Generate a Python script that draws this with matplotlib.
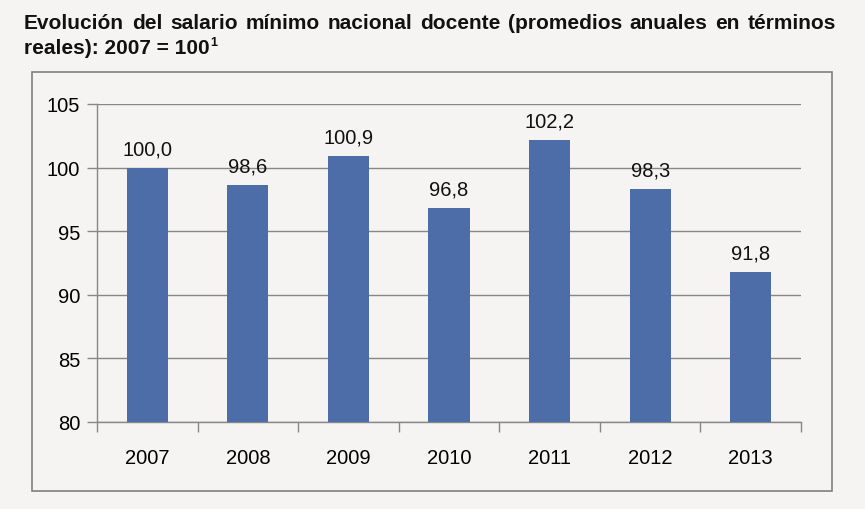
import matplotlib.pyplot as plt
from matplotlib.patches import Rectangle

years = ['2007', '2008', '2009', '2010', '2011', '2012', '2013']
values = [100.0, 98.6, 100.9, 96.8, 102.2, 98.3, 91.8]
value_labels = ['100,0', '98,6', '100,9', '96,8', '102,2', '98,3', '91,8']
yticks = [80, 85, 90, 95, 100, 105]

title_line1 = 'Evolución del salario mínimo nacional docente (promedios anuales en términos'
title_line2 = 'reales): 2007 = 100'

bg = '#f5f4f2'
bar_color = '#4c6da7'
grid_color = '#878787'

plt.rcParams['font.family'] = ['Liberation Sans', 'DejaVu Sans']

fig = plt.figure(figsize=(8.65, 5.1), dpi=100, facecolor=bg)

# outer chart box, behind the axes
fig.patches.append(Rectangle((32 / 865, 18 / 510), 800 / 865, 419 / 510,
                             transform=fig.transFigure, facecolor=bg,
                             edgecolor='#7f7f7f', linewidth=1.2, zorder=-5))

ax = fig.add_axes([97 / 865, 87 / 510, 704 / 865, 318 / 510])
ax.set_zorder(2)
ax.set_facecolor(bg)

x = range(len(years))
ax.bar(x, values, width=0.41, color=bar_color, zorder=3)
for xi, v, lab in zip(x, values, value_labels):
    ax.text(xi, v + 0.75, lab, ha='center', va='bottom', fontsize=14.5, color='#111111')

ax.set_ylim(80, 105)
ax.set_xlim(-0.5, len(years) - 0.5)
ax.set_yticks(yticks)
ax.set_yticklabels([str(t) for t in yticks], fontsize=14.5)
ax.yaxis.grid(True, color=grid_color, linewidth=1, zorder=0)
ax.tick_params(axis='y', length=7, width=1, color=grid_color, pad=5)

ax.set_xticks([i + 0.5 for i in range(-1, len(years))], minor=True)
ax.set_xticks(list(x))
ax.set_xticklabels(years, fontsize=14.5)
ax.tick_params(axis='x', which='major', length=0, pad=19)
ax.tick_params(axis='x', which='minor', length=7, width=1, color=grid_color)

for s in ['top', 'right']:
    ax.spines[s].set_visible(False)
for s in ['left', 'bottom']:
    ax.spines[s].set_color(grid_color)
    ax.spines[s].set_linewidth(1)

# title, first line justified between x0 and x1
fig.canvas.draw()
renderer = fig.canvas.get_renderer()
x0, x1 = 24, 836
words = title_line1.split(' ')
texts = []
for w in words:
    t = fig.text(0, 0, w, fontsize=15, fontweight='bold',
                 color='#111111', transform=None)
    texts.append(t)
widths = [t.get_window_extent(renderer).width for t in texts]
gap = (x1 - x0 - sum(widths)) / (len(words) - 1)
pos = x0
for t, w in zip(texts, widths):
    t.set_position((pos, 510 - 29))
    pos += w + gap

t2 = fig.text(x0, 510 - 54, title_line2, fontsize=15, fontweight='bold',
              color='#111111', transform=None)
w2 = t2.get_window_extent(renderer).width
fig.text(x0 + w2 + 1, 510 - 46, '1', fontsize=9, fontweight='bold',
         color='#111111', transform=None)

fig.savefig('out.png', dpi=100, facecolor=bg)
